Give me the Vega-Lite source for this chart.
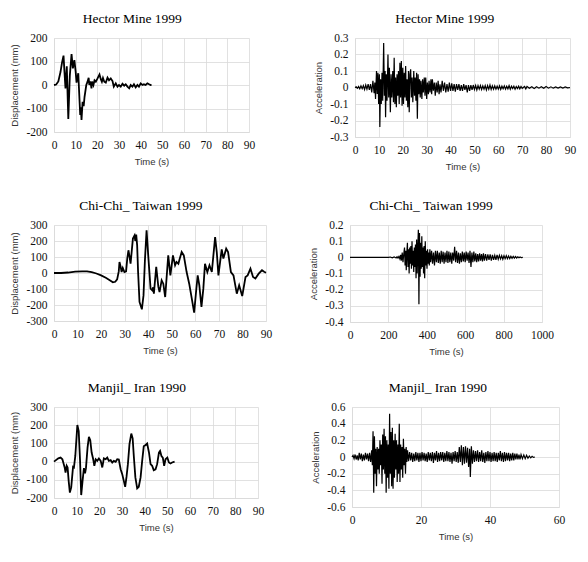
{
  "$schema": "https://vega.github.io/schema/vega-lite/v6.json",
  "description": "Displacement and acceleration time histories of three earthquakes",
  "background": "white",
  "padding": {"left": 9, "top": 11, "right": 5, "bottom": 5},
  "datasets": {
    "hd": [
      {"t":0,"v":0},{"t":1,"v":2},{"t":2,"v":15},{"t":3,"v":55},{"t":3.7,"v":95},{"t":4.4,"v":125},{"t":4.8,"v":60},{"t":5.3,"v":-15},{"t":5.9,"v":80},{"t":6.6,"v":-145},{"t":7.3,"v":40},{"t":8.1,"v":132},{"t":8.7,"v":71},{"t":9.4,"v":106},{"t":10,"v":57},{"t":10.4,"v":10},{"t":11.2,"v":50},{"t":12.1,"v":-128},{"t":12.4,"v":-95},{"t":12.7,"v":-149},{"t":13.2,"v":-71},{"t":13.7,"v":-90},{"t":14.1,"v":-50},{"t":14.9,"v":0},{"t":15.4,"v":12},{"t":16,"v":31},{"t":16.3,"v":0},{"t":16.8,"v":15},{"t":17.3,"v":-14},{"t":17.6,"v":15},{"t":18.2,"v":0},{"t":18.7,"v":20},{"t":19.3,"v":14},{"t":20.1,"v":28},{"t":21,"v":45},{"t":21.6,"v":25},{"t":22.1,"v":14},{"t":22.6,"v":30},{"t":23.2,"v":14},{"t":23.9,"v":10},{"t":24.7,"v":31},{"t":25.4,"v":20},{"t":26.2,"v":28},{"t":27,"v":17},{"t":27.6,"v":-7},{"t":28.5,"v":7},{"t":29.3,"v":-7},{"t":30,"v":0},{"t":30.8,"v":-7},{"t":31.6,"v":5},{"t":32.4,"v":-3},{"t":33.1,"v":3},{"t":33.9,"v":-7},{"t":34.7,"v":-14},{"t":35.4,"v":0},{"t":36.2,"v":-7},{"t":36.9,"v":3},{"t":37.7,"v":-10},{"t":38.5,"v":0},{"t":39.2,"v":-7},{"t":40,"v":7},{"t":40.8,"v":0},{"t":41.5,"v":3},{"t":42.3,"v":0},{"t":43.1,"v":7},{"t":43.9,"v":3},{"t":44.6,"v":0},{"t":45,"v":0}
    ],
    "ha": [
      {"t":0,"v":0},{"t":0.5,"v":0.004},{"t":1,"v":-0.005},{"t":1.5,"v":0.006},{"t":2,"v":-0.008},{"t":2.5,"v":0.01},{"t":3,"v":-0.007},{"t":3.5,"v":0.012},{"t":4,"v":-0.012},{"t":4.5,"v":0.015},{"t":5,"v":-0.01},{"t":5.5,"v":0.02},{"t":6,"v":-0.015},{"t":6.5,"v":0.02},{"t":7,"v":-0.03},{"t":7.5,"v":0.04},{"t":8,"v":-0.035},{"t":8.3,"v":0.03},{"t":8.6,"v":-0.07},{"t":9,"v":0.1},{"t":9.3,"v":-0.04},{"t":9.6,"v":0.09},{"t":9.9,"v":-0.1},{"t":10.2,"v":0.08},{"t":10.4,"v":-0.24},{"t":10.7,"v":0.05},{"t":11,"v":-0.1},{"t":11.3,"v":0.09},{"t":11.6,"v":-0.08},{"t":12,"v":0.27},{"t":12.3,"v":-0.05},{"t":12.6,"v":0.1},{"t":12.8,"v":-0.18},{"t":13.1,"v":0.08},{"t":13.4,"v":-0.08},{"t":13.8,"v":0.2},{"t":14.1,"v":-0.06},{"t":14.4,"v":0.12},{"t":14.8,"v":-0.15},{"t":15.1,"v":0.08},{"t":15.4,"v":-0.06},{"t":15.8,"v":0.1},{"t":16.1,"v":-0.09},{"t":16.4,"v":0.18},{"t":16.7,"v":-0.1},{"t":17,"v":0.06},{"t":17.3,"v":-0.12},{"t":17.6,"v":0.08},{"t":17.9,"v":-0.05},{"t":18.2,"v":0.1},{"t":18.5,"v":-0.1},{"t":18.8,"v":0.15},{"t":19.1,"v":-0.06},{"t":19.4,"v":0.16},{"t":19.7,"v":-0.11},{"t":20,"v":0.12},{"t":20.3,"v":-0.1},{"t":20.6,"v":0.09},{"t":20.9,"v":-0.06},{"t":21.2,"v":0.13},{"t":21.5,"v":-0.08},{"t":21.8,"v":0.05},{"t":22.1,"v":-0.12},{"t":22.4,"v":0.1},{"t":22.7,"v":-0.15},{"t":23,"v":0.08},{"t":23.3,"v":0.11},{"t":23.6,"v":-0.06},{"t":23.9,"v":0.06},{"t":24.2,"v":-0.09},{"t":24.6,"v":0.1},{"t":24.9,"v":-0.05},{"t":25.2,"v":0.06},{"t":25.5,"v":-0.08},{"t":25.8,"v":0.09},{"t":26.1,"v":-0.19},{"t":26.4,"v":0.08},{"t":26.7,"v":-0.04},{"t":27,"v":0.05},{"t":27.3,"v":-0.06},{"t":27.6,"v":0.04},{"t":28,"v":-0.07},{"t":28.3,"v":0.05},{"t":28.6,"v":-0.03},{"t":29,"v":0.06},{"t":29.3,"v":-0.05},{"t":29.6,"v":0.06},{"t":30,"v":-0.07},{"t":30.3,"v":0.03},{"t":30.7,"v":-0.04},{"t":31,"v":0.04},{"t":31.4,"v":-0.03},{"t":31.8,"v":0.05},{"t":32.1,"v":-0.04},{"t":32.4,"v":0.05},{"t":32.8,"v":-0.02},{"t":33.2,"v":0.03},{"t":33.6,"v":-0.05},{"t":34,"v":0.03},{"t":34.4,"v":-0.03},{"t":34.8,"v":0.04},{"t":35.2,"v":-0.04},{"t":35.6,"v":0.02},{"t":36,"v":-0.03},{"t":36.5,"v":0.04},{"t":37,"v":-0.02},{"t":37.5,"v":0.03},{"t":38,"v":-0.03},{"t":38.5,"v":0.02},{"t":39,"v":-0.025},{"t":39.5,"v":0.03},{"t":40,"v":-0.02},{"t":40.5,"v":0.025},{"t":41,"v":-0.02},{"t":41.5,"v":0.02},{"t":42,"v":-0.025},{"t":42.5,"v":0.02},{"t":43,"v":-0.015},{"t":43.5,"v":0.02},{"t":44,"v":-0.02},{"t":44.5,"v":0.015},{"t":45,"v":-0.02},{"t":45.5,"v":0.02},{"t":46,"v":-0.015},{"t":46.5,"v":0.015},{"t":47,"v":-0.03},{"t":47.5,"v":0.015},{"t":48,"v":-0.02},{"t":48.5,"v":0.015},{"t":49,"v":-0.015},{"t":49.5,"v":0.015},{"t":50,"v":-0.012},{"t":50.5,"v":0.012},{"t":51,"v":-0.015},{"t":51.5,"v":0.012},{"t":52,"v":-0.01},{"t":52.5,"v":0.012},{"t":53,"v":-0.012},{"t":53.5,"v":0.01},{"t":54,"v":-0.01},{"t":54.5,"v":0.012},{"t":55,"v":-0.015},{"t":55.5,"v":0.012},{"t":56,"v":-0.01},{"t":56.5,"v":0.015},{"t":57,"v":-0.012},{"t":57.5,"v":0.01},{"t":58,"v":-0.01},{"t":58.5,"v":0.01},{"t":59,"v":-0.01},{"t":59.5,"v":0.008},{"t":60,"v":-0.01},{"t":60.5,"v":0.01},{"t":61,"v":-0.012},{"t":61.5,"v":0.008},{"t":62,"v":-0.008},{"t":62.5,"v":0.01},{"t":63,"v":-0.01},{"t":63.5,"v":0.008},{"t":64,"v":-0.008},{"t":64.5,"v":0.012},{"t":65,"v":-0.01},{"t":65.5,"v":0.008},{"t":66,"v":-0.006},{"t":66.5,"v":0.008},{"t":67,"v":-0.01},{"t":67.5,"v":0.006},{"t":68,"v":-0.006},{"t":68.5,"v":0.008},{"t":69,"v":-0.008},{"t":69.5,"v":0.006},{"t":70,"v":-0.005},{"t":71,"v":0.006},{"t":71.5,"v":-0.008},{"t":72,"v":0.006},{"t":73,"v":-0.005},{"t":74,"v":0.005},{"t":75,"v":-0.006},{"t":76,"v":0.005},{"t":77,"v":-0.004},{"t":78,"v":0.005},{"t":79,"v":-0.005},{"t":80,"v":0.006},{"t":81,"v":-0.004},{"t":82,"v":0.004},{"t":83,"v":-0.004},{"t":84,"v":0.003},{"t":85,"v":-0.004},{"t":86,"v":0.003},{"t":87,"v":-0.003},{"t":88,"v":0.003},{"t":89,"v":-0.002},{"t":90,"v":0}
    ],
    "cd": [
      {"t":0,"v":0},{"t":3,"v":0},{"t":6,"v":3},{"t":9,"v":8},{"t":12,"v":10},{"t":14,"v":10},{"t":16,"v":5},{"t":18,"v":-3},{"t":20,"v":-15},{"t":22,"v":-30},{"t":24,"v":-48},{"t":25,"v":-58},{"t":26,"v":-55},{"t":26.8,"v":-40},{"t":27.5,"v":10},{"t":27.8,"v":69},{"t":28.3,"v":40},{"t":28.7,"v":6},{"t":29.2,"v":31},{"t":29.9,"v":6},{"t":30.6,"v":10},{"t":31.1,"v":90},{"t":31.6,"v":142},{"t":32.1,"v":100},{"t":32.5,"v":58},{"t":33.5,"v":215},{"t":34.2,"v":235},{"t":34.5,"v":200},{"t":34.9,"v":240},{"t":35.3,"v":173},{"t":35.7,"v":6},{"t":36.3,"v":-181},{"t":37.3,"v":-227},{"t":38,"v":-140},{"t":38.6,"v":80},{"t":39.3,"v":267},{"t":40,"v":110},{"t":41,"v":-98},{"t":41.7,"v":-108},{"t":42.1,"v":-90},{"t":42.4,"v":-129},{"t":43.4,"v":38},{"t":44.3,"v":-87},{"t":44.8,"v":-119},{"t":45.7,"v":-46},{"t":46.4,"v":-67},{"t":47.2,"v":-150},{"t":48.5,"v":110},{"t":49.4,"v":-15},{"t":50.5,"v":110},{"t":51.4,"v":48},{"t":52,"v":69},{"t":52.8,"v":58},{"t":53.4,"v":90},{"t":54.2,"v":131},{"t":55.1,"v":110},{"t":56.3,"v":6},{"t":57.4,"v":-67},{"t":58.5,"v":-160},{"t":59.5,"v":-248},{"t":60.3,"v":-119},{"t":61,"v":-15},{"t":61.7,"v":-77},{"t":62.6,"v":-212},{"t":63.4,"v":-98},{"t":64.1,"v":58},{"t":65.1,"v":6},{"t":66,"v":48},{"t":67,"v":6},{"t":68.4,"v":225},{"t":69.1,"v":131},{"t":69.8,"v":-15},{"t":71.2,"v":148},{"t":71.9,"v":90},{"t":73.1,"v":152},{"t":73.9,"v":131},{"t":75.1,"v":6},{"t":76.2,"v":-15},{"t":77.6,"v":-129},{"t":78.6,"v":-77},{"t":79.9,"v":-144},{"t":81.3,"v":-25},{"t":82.2,"v":-15},{"t":83.4,"v":27},{"t":84.5,"v":-25},{"t":85.5,"v":-35},{"t":86.9,"v":-4},{"t":88.3,"v":17},{"t":89.2,"v":8},{"t":90,"v":2}
    ],
    "ca": [
      {"t":0,"v":0},{"t":100,"v":0},{"t":200,"v":0},{"t":210,"v":0.002},{"t":220,"v":-0.003},{"t":230,"v":0.003},{"t":240,"v":-0.004},{"t":245,"v":0.004},{"t":250,"v":-0.005},{"t":255,"v":0.006},{"t":260,"v":-0.01},{"t":264,"v":0.015},{"t":268,"v":-0.02},{"t":272,"v":0.03},{"t":276,"v":-0.03},{"t":280,"v":0.02},{"t":284,"v":0.06},{"t":287,"v":-0.05},{"t":290,"v":0.04},{"t":293,"v":-0.08},{"t":296,"v":0.03},{"t":299,"v":0.09},{"t":302,"v":-0.06},{"t":305,"v":0.05},{"t":308,"v":-0.1},{"t":311,"v":0.06},{"t":314,"v":-0.04},{"t":317,"v":0.07},{"t":320,"v":-0.07},{"t":323,"v":0.1},{"t":326,"v":-0.05},{"t":329,"v":0.04},{"t":332,"v":-0.09},{"t":335,"v":0.06},{"t":338,"v":-0.06},{"t":341,"v":0.08},{"t":344,"v":-0.13},{"t":347,"v":0.11},{"t":350,"v":-0.1},{"t":353,"v":0.06},{"t":356,"v":0.17},{"t":359,"v":-0.29},{"t":362,"v":0.15},{"t":365,"v":-0.12},{"t":368,"v":0.09},{"t":371,"v":-0.07},{"t":374,"v":0.13},{"t":377,"v":-0.06},{"t":380,"v":0.06},{"t":383,"v":-0.1},{"t":386,"v":0.07},{"t":389,"v":-0.13},{"t":392,"v":0.1},{"t":395,"v":-0.05},{"t":398,"v":0.04},{"t":401,"v":-0.07},{"t":404,"v":0.05},{"t":407,"v":-0.04},{"t":410,"v":0.03},{"t":413,"v":-0.05},{"t":416,"v":0.05},{"t":420,"v":-0.03},{"t":425,"v":0.04},{"t":430,"v":-0.04},{"t":435,"v":0.03},{"t":440,"v":-0.05},{"t":445,"v":0.04},{"t":450,"v":-0.03},{"t":455,"v":0.04},{"t":460,"v":-0.035},{"t":465,"v":0.03},{"t":470,"v":-0.04},{"t":475,"v":0.04},{"t":480,"v":-0.03},{"t":485,"v":0.035},{"t":490,"v":-0.04},{"t":495,"v":0.03},{"t":500,"v":-0.03},{"t":505,"v":0.04},{"t":510,"v":-0.035},{"t":515,"v":0.035},{"t":520,"v":-0.03},{"t":525,"v":0.03},{"t":530,"v":-0.04},{"t":535,"v":0.03},{"t":540,"v":-0.02},{"t":545,"v":0.065},{"t":550,"v":-0.03},{"t":555,"v":0.04},{"t":560,"v":-0.035},{"t":565,"v":0.03},{"t":570,"v":-0.04},{"t":575,"v":0.025},{"t":580,"v":-0.03},{"t":585,"v":0.035},{"t":590,"v":-0.025},{"t":595,"v":0.03},{"t":600,"v":-0.03},{"t":605,"v":0.035},{"t":610,"v":-0.02},{"t":615,"v":0.03},{"t":620,"v":-0.035},{"t":625,"v":0.04},{"t":630,"v":-0.06},{"t":635,"v":0.03},{"t":640,"v":-0.03},{"t":645,"v":0.035},{"t":650,"v":-0.025},{"t":655,"v":0.025},{"t":660,"v":-0.03},{"t":665,"v":0.02},{"t":670,"v":-0.025},{"t":675,"v":0.025},{"t":680,"v":-0.02},{"t":685,"v":0.02},{"t":690,"v":-0.025},{"t":695,"v":0.025},{"t":700,"v":-0.02},{"t":706,"v":0.02},{"t":712,"v":-0.02},{"t":718,"v":0.018},{"t":724,"v":-0.015},{"t":730,"v":0.018},{"t":736,"v":-0.02},{"t":742,"v":0.015},{"t":748,"v":-0.015},{"t":754,"v":0.012},{"t":760,"v":-0.015},{"t":766,"v":0.015},{"t":772,"v":-0.012},{"t":778,"v":0.012},{"t":784,"v":-0.01},{"t":790,"v":0.01},{"t":796,"v":-0.012},{"t":802,"v":0.01},{"t":808,"v":-0.008},{"t":814,"v":0.01},{"t":820,"v":-0.008},{"t":826,"v":0.008},{"t":832,"v":-0.008},{"t":838,"v":0.006},{"t":844,"v":-0.006},{"t":850,"v":0.006},{"t":856,"v":-0.005},{"t":862,"v":0.005},{"t":868,"v":-0.004},{"t":874,"v":0.003},{"t":880,"v":-0.003},{"t":886,"v":0.002},{"t":892,"v":-0.002},{"t":900,"v":0}
    ],
    "md": [
      {"t":0,"v":0},{"t":1.9,"v":18},{"t":2.9,"v":22},{"t":3.7,"v":13},{"t":4.7,"v":-32},{"t":5.1,"v":-60},{"t":5.6,"v":-23},{"t":6,"v":-32},{"t":6.5,"v":-110},{"t":7,"v":-170},{"t":7.6,"v":-142},{"t":8.4,"v":-29},{"t":8.8,"v":-32},{"t":9.4,"v":31},{"t":10.3,"v":201},{"t":10.9,"v":168},{"t":11.5,"v":4},{"t":12,"v":-184},{"t":12.6,"v":-106},{"t":13.2,"v":-36},{"t":13.7,"v":-65},{"t":14.1,"v":-36},{"t":14.8,"v":77},{"t":15.4,"v":136},{"t":16,"v":117},{"t":16.6,"v":50},{"t":17.3,"v":13},{"t":17.8,"v":-23},{"t":18.4,"v":13},{"t":19.1,"v":4},{"t":19.8,"v":17},{"t":20.6,"v":4},{"t":21.3,"v":-32},{"t":22,"v":18},{"t":22.8,"v":13},{"t":23.5,"v":22},{"t":24.2,"v":4},{"t":25,"v":8},{"t":25.7,"v":-5},{"t":26.4,"v":4},{"t":27.2,"v":-1},{"t":27.9,"v":13},{"t":28.6,"v":11},{"t":29.4,"v":-42},{"t":30.1,"v":-69},{"t":30.8,"v":-106},{"t":31.4,"v":-139},{"t":32,"v":-83},{"t":32.6,"v":-14},{"t":33.3,"v":96},{"t":34.1,"v":154},{"t":34.7,"v":128},{"t":35.2,"v":32},{"t":35.9,"v":-87},{"t":36.7,"v":-147},{"t":37.4,"v":-138},{"t":38.2,"v":-87},{"t":38.9,"v":4},{"t":39.6,"v":84},{"t":40.4,"v":91},{"t":41.1,"v":99},{"t":41.9,"v":50},{"t":42.6,"v":-14},{"t":43.3,"v":-23},{"t":44,"v":-47},{"t":44.8,"v":-42},{"t":45.5,"v":-14},{"t":46.3,"v":50},{"t":46.8,"v":59},{"t":47.4,"v":31},{"t":48,"v":22},{"t":48.6,"v":-23},{"t":49.2,"v":13},{"t":50,"v":22},{"t":50.7,"v":-5},{"t":51.4,"v":-10},{"t":52.1,"v":-5},{"t":53.2,"v":0}
    ],
    "ma": [
      {"t":0,"v":0},{"t":0.3,"v":0.02},{"t":0.6,"v":-0.02},{"t":0.9,"v":0.03},{"t":1.2,"v":-0.03},{"t":1.5,"v":0.02},{"t":1.8,"v":-0.04},{"t":2.1,"v":0.05},{"t":2.4,"v":-0.03},{"t":2.7,"v":0.04},{"t":3,"v":-0.05},{"t":3.3,"v":0.03},{"t":3.6,"v":-0.04},{"t":3.9,"v":0.05},{"t":4.2,"v":-0.03},{"t":4.5,"v":0.04},{"t":4.8,"v":-0.05},{"t":5.1,"v":0.05},{"t":5.4,"v":-0.06},{"t":5.7,"v":0.08},{"t":5.9,"v":-0.1},{"t":6.1,"v":0.31},{"t":6.3,"v":-0.43},{"t":6.5,"v":0.25},{"t":6.7,"v":-0.2},{"t":6.9,"v":0.1},{"t":7.1,"v":-0.35},{"t":7.3,"v":0.12},{"t":7.5,"v":-0.15},{"t":7.7,"v":0.1},{"t":7.9,"v":-0.2},{"t":8.1,"v":0.2},{"t":8.3,"v":-0.1},{"t":8.5,"v":0.15},{"t":8.7,"v":-0.32},{"t":8.9,"v":0.27},{"t":9.1,"v":-0.15},{"t":9.3,"v":0.34},{"t":9.5,"v":-0.2},{"t":9.7,"v":0.25},{"t":9.9,"v":-0.43},{"t":10.1,"v":0.2},{"t":10.3,"v":-0.25},{"t":10.5,"v":0.15},{"t":10.7,"v":-0.38},{"t":10.9,"v":0.52},{"t":11.1,"v":-0.2},{"t":11.3,"v":0.3},{"t":11.5,"v":-0.35},{"t":11.7,"v":0.35},{"t":11.9,"v":-0.38},{"t":12.1,"v":0.2},{"t":12.3,"v":-0.25},{"t":12.5,"v":0.28},{"t":12.7,"v":-0.15},{"t":12.9,"v":0.2},{"t":13.1,"v":-0.3},{"t":13.3,"v":0.15},{"t":13.5,"v":-0.2},{"t":13.7,"v":0.4},{"t":13.9,"v":-0.3},{"t":14.1,"v":0.15},{"t":14.3,"v":-0.15},{"t":14.5,"v":0.12},{"t":14.7,"v":-0.25},{"t":14.9,"v":0.22},{"t":15.1,"v":-0.1},{"t":15.3,"v":0.1},{"t":15.5,"v":-0.2},{"t":15.7,"v":0.12},{"t":15.9,"v":-0.06},{"t":16.1,"v":0.08},{"t":16.4,"v":-0.05},{"t":16.7,"v":0.06},{"t":17,"v":-0.04},{"t":17.3,"v":0.05},{"t":17.6,"v":-0.06},{"t":17.9,"v":0.04},{"t":18.2,"v":-0.05},{"t":18.5,"v":0.06},{"t":18.8,"v":-0.04},{"t":19.1,"v":0.05},{"t":19.4,"v":-0.06},{"t":19.7,"v":0.05},{"t":20,"v":-0.05},{"t":20.3,"v":0.06},{"t":20.6,"v":-0.04},{"t":20.9,"v":0.05},{"t":21.2,"v":-0.05},{"t":21.5,"v":0.04},{"t":21.8,"v":-0.06},{"t":22.1,"v":0.06},{"t":22.4,"v":-0.04},{"t":22.7,"v":0.05},{"t":23,"v":-0.05},{"t":23.3,"v":0.06},{"t":23.6,"v":-0.07},{"t":23.9,"v":0.05},{"t":24.2,"v":-0.04},{"t":24.5,"v":0.07},{"t":24.8,"v":-0.06},{"t":25.1,"v":0.05},{"t":25.4,"v":-0.05},{"t":25.7,"v":0.06},{"t":26,"v":-0.04},{"t":26.3,"v":0.06},{"t":26.6,"v":-0.06},{"t":26.9,"v":0.05},{"t":27.2,"v":-0.05},{"t":27.5,"v":0.07},{"t":27.8,"v":-0.05},{"t":28.1,"v":0.06},{"t":28.4,"v":-0.06},{"t":28.7,"v":0.05},{"t":29,"v":-0.08},{"t":29.3,"v":0.06},{"t":29.6,"v":-0.05},{"t":29.9,"v":0.07},{"t":30.2,"v":-0.06},{"t":30.5,"v":0.06},{"t":30.8,"v":-0.07},{"t":31.1,"v":0.12},{"t":31.4,"v":-0.06},{"t":31.7,"v":0.14},{"t":32,"v":-0.1},{"t":32.3,"v":0.12},{"t":32.6,"v":-0.08},{"t":32.9,"v":0.13},{"t":33.2,"v":-0.07},{"t":33.5,"v":0.11},{"t":33.8,"v":-0.12},{"t":34.1,"v":0.1},{"t":34.3,"v":-0.24},{"t":34.6,"v":0.13},{"t":34.9,"v":-0.08},{"t":35.2,"v":0.08},{"t":35.5,"v":-0.06},{"t":35.8,"v":0.07},{"t":36.1,"v":-0.05},{"t":36.4,"v":0.08},{"t":36.7,"v":-0.06},{"t":37,"v":0.06},{"t":37.3,"v":-0.05},{"t":37.6,"v":0.08},{"t":37.9,"v":-0.06},{"t":38.2,"v":0.05},{"t":38.5,"v":-0.07},{"t":38.8,"v":0.06},{"t":39.1,"v":-0.05},{"t":39.4,"v":0.07},{"t":39.7,"v":-0.05},{"t":40,"v":0.06},{"t":40.3,"v":-0.06},{"t":40.6,"v":0.05},{"t":40.9,"v":-0.05},{"t":41.2,"v":0.06},{"t":41.5,"v":-0.05},{"t":41.8,"v":0.05},{"t":42.1,"v":-0.06},{"t":42.4,"v":0.05},{"t":42.7,"v":-0.04},{"t":43,"v":0.07},{"t":43.3,"v":-0.05},{"t":43.6,"v":0.05},{"t":43.9,"v":-0.06},{"t":44.2,"v":0.06},{"t":44.5,"v":-0.05},{"t":44.8,"v":0.05},{"t":45.1,"v":-0.04},{"t":45.4,"v":0.05},{"t":45.7,"v":-0.05},{"t":46,"v":0.04},{"t":46.3,"v":-0.04},{"t":46.6,"v":0.05},{"t":46.9,"v":-0.04},{"t":47.2,"v":0.04},{"t":47.5,"v":-0.03},{"t":47.8,"v":0.04},{"t":48.1,"v":-0.03},{"t":48.4,"v":0.03},{"t":48.7,"v":-0.03},{"t":49,"v":0.03},{"t":49.4,"v":-0.02},{"t":49.8,"v":0.025},{"t":50.2,"v":-0.02},{"t":50.6,"v":0.02},{"t":51,"v":-0.015},{"t":51.4,"v":0.012},{"t":51.8,"v":-0.01},{"t":52.2,"v":0.008},{"t":52.6,"v":-0.005},{"t":53,"v":0}
    ]
  },
  "vconcat": [
    {
      "hconcat": [
        {
          "width": 195, "height": 94,
          "title": "Hector Mine 1999",
          "data": {"name": "hd"},
          "mark": {"type": "line", "color": "black", "strokeWidth": 1.8},
          "encoding": {
            "x": {"field": "t", "type": "quantitative", "title": "Time (s)", "scale": {"domain": [0, 90], "nice": false}, "axis": {"values": [0, 10, 20, 30, 40, 50, 60, 70, 80, 90]}},
            "y": {"field": "v", "type": "quantitative", "title": "Displacement (mm)", "scale": {"domain": [-200, 200], "nice": false}, "axis": {"values": [-200, -100, 0, 100, 200]}}
          }
        },
        {
          "width": 215, "height": 99,
          "title": "Hector Mine 1999",
          "data": {"name": "ha"},
          "mark": {"type": "line", "color": "black", "strokeWidth": 1.2},
          "encoding": {
            "x": {"field": "t", "type": "quantitative", "title": "Time (s)", "scale": {"domain": [0, 90], "nice": false}, "axis": {"values": [0, 10, 20, 30, 40, 50, 60, 70, 80, 90]}},
            "y": {"field": "v", "type": "quantitative", "title": "Acceleration", "scale": {"domain": [-0.3, 0.3], "nice": false}, "axis": {"values": [-0.3, -0.2, -0.1, 0, 0.1, 0.2, 0.3]}}
          }
        }
      ],
      "spacing": 58
    },
    {
      "vconcat": [
        {
          "hconcat": [
            {
              "width": 212, "height": 96,
              "title": "Chi-Chi_ Taiwan 1999",
              "data": {"name": "cd"},
              "mark": {"type": "line", "color": "black", "strokeWidth": 1.8},
              "encoding": {
                "x": {"field": "t", "type": "quantitative", "title": "Time (s)", "scale": {"domain": [0, 90], "nice": false}, "axis": {"values": [0, 10, 20, 30, 40, 50, 60, 70, 80, 90]}},
                "y": {"field": "v", "type": "quantitative", "title": "Displacement (mm)", "scale": {"domain": [-300, 300], "nice": false}, "axis": {"values": [-300, -200, -100, 0, 100, 200, 300]}}
              }
            },
            {
              "width": 192, "height": 97,
              "title": "Chi-Chi_ Taiwan 1999",
              "data": {"name": "ca"},
              "mark": {"type": "line", "color": "black", "strokeWidth": 1.2},
              "encoding": {
                "x": {"field": "t", "type": "quantitative", "title": "Time (s)", "scale": {"domain": [0, 1000], "nice": false}, "axis": {"values": [0, 200, 400, 600, 800, 1000]}},
                "y": {"field": "v", "type": "quantitative", "title": "Acceleration", "scale": {"domain": [-0.4, 0.2], "nice": false}, "axis": {"values": [-0.4, -0.3, -0.2, -0.1, 0, 0.1, 0.2]}}
              }
            }
          ],
          "spacing": 36
        },
        {
          "hconcat": [
            {
              "width": 204, "height": 91,
              "title": "Manjil_ Iran 1990",
              "data": {"name": "md"},
              "mark": {"type": "line", "color": "black", "strokeWidth": 1.8},
              "encoding": {
                "x": {"field": "t", "type": "quantitative", "title": "Time (s)", "scale": {"domain": [0, 90], "nice": false}, "axis": {"values": [0, 10, 20, 30, 40, 50, 60, 70, 80, 90]}},
                "y": {"field": "v", "type": "quantitative", "title": "Displacement (mm)", "scale": {"domain": [-200, 300], "nice": false}, "axis": {"values": [-200, -100, 0, 100, 200, 300]}}
              }
            },
            {
              "width": 207, "height": 100,
              "title": "Manjil_ Iran 1990",
              "data": {"name": "ma"},
              "mark": {"type": "line", "color": "black", "strokeWidth": 1.2},
              "encoding": {
                "x": {"field": "t", "type": "quantitative", "title": "Time (s)", "scale": {"domain": [0, 60], "nice": false}, "axis": {"values": [0, 20, 40, 60]}},
                "y": {"field": "v", "type": "quantitative", "title": "Acceleration", "scale": {"domain": [-0.6, 0.6], "nice": false}, "axis": {"values": [-0.6, -0.4, -0.2, 0, 0.2, 0.4, 0.6]}}
              }
            }
          ],
          "spacing": 46
        }
      ],
      "spacing": 24
    }
  ],
  "spacing": 27,
  "config": {
    "view": {"stroke": null},
    "title": {"font": "Liberation Serif", "fontSize": 13.5, "fontWeight": "normal", "color": "#000", "frame": "bounds", "anchor": "middle", "offset": 7},
    "axis": {
      "grid": true, "gridColor": "#d9d9d9", "gridWidth": 0.8,
      "domainColor": "#d9d9d9", "domainWidth": 0.8, "ticks": false,
      "labelFont": "Liberation Serif", "labelFontSize": 11.5, "labelColor": "#111", "labelPadding": 7, "labelOverlap": false,
      "labelExpr": "'' + datum.value",
      "titleFont": "Liberation Sans", "titleFontSize": 9.5, "titleFontWeight": "normal", "titleColor": "#333", "titlePadding": 6
    },
    "axisX": {"labelFlush": false}
  }
}
